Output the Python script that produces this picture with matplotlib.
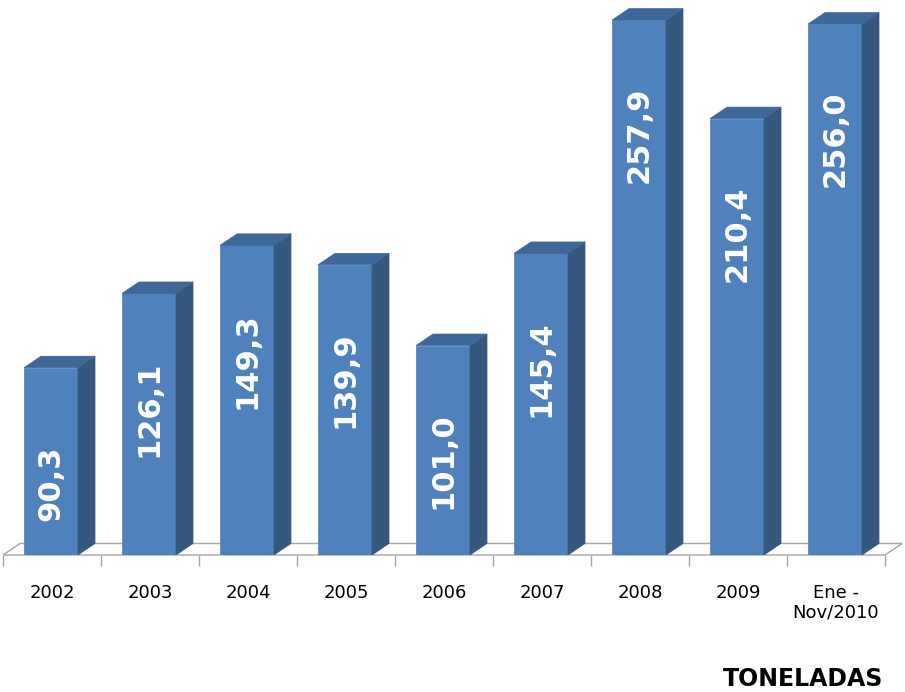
import matplotlib.pyplot as plt
from matplotlib.patches import Polygon

# data
categories = ['2002', '2003', '2004', '2005', '2006', '2007', '2008', '2009', 'Ene -\nNov/2010']
values = [90.3, 126.1, 149.3, 139.9, 101.0, 145.4, 257.9, 210.4, 256.0]
labels = ['90,3', '126,1', '149,3', '139,9', '101,0', '145,4', '257,9', '210,4', '256,0']

FRONT = '#4F81BD'
SIDE = '#35587F'
TOP = '#3E679A'
FLOOR = '#A6A6A6'

W, H = 905, 692
fig = plt.figure(figsize=(W / 100, H / 100), dpi=100)
# axes spans the floor front edge (px 555 from top) up to the top of the picture
ax = fig.add_axes([3 / W, 137 / H, 882 / W, 555 / H])
ax.set_xlim(0, 9)
ax.set_ylim(0, 555 / 2.074)
for s in ax.spines.values():
    s.set_visible(False)
ax.set_yticks([])

# depth of the 3d effect, in data units
dx = 17 / 98
dy = 11.5 / 2.074
bw = 54 / 98
off = 21 / 98

# floor
n = len(categories)
ax.add_patch(Polygon([(0, 0), (n, 0), (n + dx, dy), (dx, dy)], closed=True,
                     facecolor='white', edgecolor=FLOOR, linewidth=1.0, zorder=1, clip_on=False))

xs = [i + off for i in range(n)]
ax.bar(xs, values, width=bw, align='edge', color=FRONT, edgecolor=FRONT, linewidth=0.5, zorder=3)

for x0, v in zip(xs, values):
    x1 = x0 + bw
    ax.add_patch(Polygon([(x1, 0), (x1 + dx, dy), (x1 + dx, v + dy), (x1, v)],
                         facecolor=SIDE, edgecolor=SIDE, linewidth=0.5, zorder=3))
    ax.add_patch(Polygon([(x0, v), (x1, v), (x1 + dx, v + dy), (x0 + dx, v + dy)],
                         facecolor=TOP, edgecolor=TOP, linewidth=0.5, zorder=3, clip_on=False))

for x0, v, lab in zip(xs, values, labels):
    ax.text(x0 + bw / 2, v - 55.5, lab, rotation=90, ha='center', va='center',
            color='white', fontsize=22, fontweight='heavy', zorder=5)

# tick marks at category boundaries, labels at the centres
ax.set_xticks(range(n + 1), minor=True)
ax.tick_params(axis='x', which='minor', length=8, color=FLOOR, width=1)
ax.set_xticks([i + 0.5 for i in range(n)])
ax.set_xticklabels(categories, fontsize=13, va='top', linespacing=1.1)
ax.tick_params(axis='x', which='major', length=0, pad=21)

fig.text(803 / W, 1 - 679 / H, 'TONELADAS', ha='center', va='center',
         fontsize=17, fontweight='bold')

fig.savefig('out.png', dpi=100)
